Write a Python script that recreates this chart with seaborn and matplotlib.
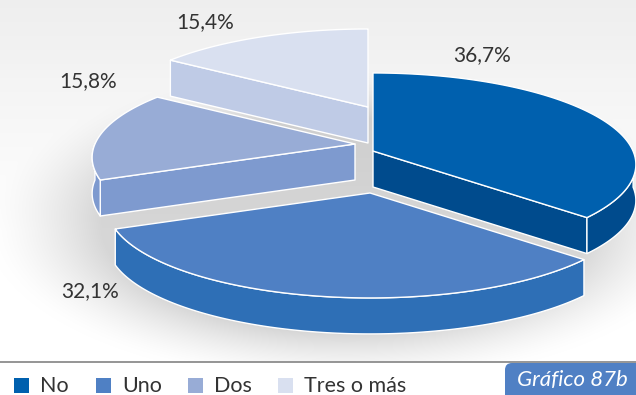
import numpy as np
import matplotlib
matplotlib.use("Agg")
import matplotlib.pyplot as plt
import seaborn as sns
from matplotlib.patches import Polygon, Rectangle, FancyBboxPatch

# ---- data -------------------------------------------------------------
categories = ["No", "Uno", "Dos", "Tres o más"]
values = [36.7, 32.1, 15.8, 15.4]
badge_text = "Gráfico 87b"

# ---- style ------------------------------------------------------------
sns.set_theme(style="white")
plt.rcParams["font.family"] = ["Lato", "DejaVu Sans"]

top_colors = sns.color_palette(["#0060ae", "#4f80c4", "#98acd6", "#d9e0f0"])
wall_colors = sns.color_palette(["#004b8d", "#2e6fb6", "#7e9acf", "#bfcbe6"])

W, H = 636, 395
RX, RY, PERSP = 260.0, 89.5, 0.147   # projected radius and perspective factor
THICK = 36.0                          # depth of the pie in pixels
# apex (tip) of every exploded slice on the canvas
apex = [(373, 151), (370, 193), (355, 144), (368, 107)]
label_pos = [(482, 55), (90, 291), (88, 81), (205, 22)]

fig = plt.figure(figsize=(W / 100, H / 100), dpi=100)
ax = fig.add_axes([0, 0, 1, 1])
ax.set_xlim(0, W)
ax.set_ylim(H, 0)
ax.axis("off")

# ---- background: top haze and soft shadow under the pie --------------
yy, xx = np.mgrid[0:H, 0:W].astype(float)
base = 1.0 - 0.065 * np.clip(1 - yy / 230.0, 0, 1)
q = np.sqrt(((xx - 345) / 290.0) ** 2 + ((yy - 225) / 128.0) ** 2)
shade = 0.16 * np.clip((1.24 - q) / 0.40, 0, 1) ** 1.5
img = np.clip(base - shade, 0, 1)
img[362:, :] = 1.0
rgb = np.dstack([img, img, img])
ax.imshow(rgb, extent=(0, W, H, 0), zorder=0, interpolation="bilinear")


def ring(a, cx, cy, dz=0.0):
    s = 1.0 + PERSP * np.sin(a)
    return cx + RX * np.cos(a) / s, cy - RY * np.sin(a) / s + dz


# ---- slices -----------------------------------------------------------
angles = []
start = np.pi / 2
for v in values:
    span = v / 100.0 * 2 * np.pi
    angles.append((start, start - span))
    start -= span

order = np.argsort([p[1] for p in apex])
z = 2
for i in order:
    a_s, a_e = angles[i]
    cx, cy = apex[i]
    t = np.linspace(a_s, a_e, 300)
    tx, ty = ring(t, cx, cy)
    kw = dict(edgecolor="white", linewidth=1.0, joinstyle="round")

    # radial side faces
    for a, visible in ((a_s, np.cos(a_s) < -1e-6), (a_e, np.cos(a_e) > 1e-6)):
        if visible:
            ex, ey = ring(np.array([a]), cx, cy)
            poly = [(cx, cy), (ex[0], ey[0]), (ex[0], ey[0] + THICK), (cx, cy + THICK)]
            ax.add_patch(Polygon(poly, closed=True, facecolor=wall_colors[i], zorder=z, **kw))

    # curved outer face (front half only)
    front = np.sin(t) < 0
    if front.any():
        fx, fy = tx[front], ty[front]
        pts = np.concatenate([np.column_stack([fx, fy]),
                              np.column_stack([fx[::-1], fy[::-1] + THICK])])
        ax.add_patch(Polygon(pts, closed=True, facecolor=wall_colors[i], zorder=z, **kw))

    # top face
    pts = np.vstack([[cx, cy], np.column_stack([tx, ty])])
    ax.add_patch(Polygon(pts, closed=True, facecolor=top_colors[i], zorder=z + 1, **kw))
    z += 2

    # value label
    lx, ly = label_pos[i]
    ax.text(lx, ly, f"{values[i]:.1f}".replace(".", ",") + "%", ha="center", va="center",
            fontsize=15, color="#333333", zorder=20)

# ---- footer: rule, legend and badge ----------------------------------
ax.plot([0, W], [362, 362], color="#8c8c8c", lw=1.3, zorder=21, solid_capstyle="butt")

legend_x = [14, 96, 188, 278]
for i, name in enumerate(categories):
    x0 = legend_x[i]
    ax.add_patch(Rectangle((x0, 378), 15, 15, facecolor=top_colors[i], edgecolor="none", zorder=21))
    ax.text(x0 + 26, 385.5, name, ha="left", va="center", fontsize=15.5, color="#333333", zorder=21)

ax.add_patch(FancyBboxPatch((505, 363), 140, 40, boxstyle="round,pad=0,rounding_size=7",
                            facecolor="#5080c4", edgecolor="none", zorder=21))
ax.text(572, 380.5, badge_text, ha="center", va="center", fontsize=16, style="italic",
        color="white", zorder=22)

fig.savefig("out.png", dpi=100)
